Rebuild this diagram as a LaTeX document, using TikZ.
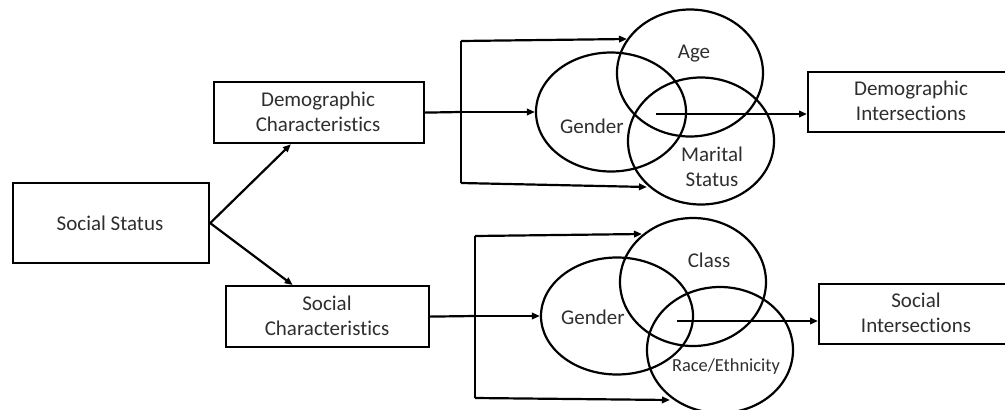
\documentclass[tikz,border=0pt]{standalone}
\usepackage{fontspec}
\setmainfont{Carlito}[Ligatures=NoCommon]
\usetikzlibrary{arrows.meta,shapes.geometric,calc}
\begin{document}
\begin{tikzpicture}[x=1pt,y=-1pt,
  line width=2.2pt,
  txt/.style={text=black!82,font=\fontsize{21}{25}\selectfont,align=center,inner sep=0pt},
  boxnode/.style={draw,rectangle,inner sep=0pt,anchor=north west},
  oval/.style={draw,ellipse,inner sep=0pt},
  arr/.style={-{Triangle[length=8pt,width=6.5pt]}},
  lbl/.style={txt}]
\useasboundingbox (0,0) rectangle (1005,410);
\clip (0,0) rectangle (1005,410);

% left-hand boxes
\node[boxnode,minimum width=196pt,minimum height=80pt] (ss) at (12,182) {};
\node[txt] at (110,223) {Social Status};
\node[boxnode,minimum width=210pt,minimum height=61pt] (dc) at (213,81) {};
\node[txt] at (318,112) {Demographic\\Characteristics};
\node[boxnode,minimum width=203pt,minimum height=61pt] (sc) at (225,285) {};
\node[txt] at (327,316) {Social\\Characteristics};

% right-hand result boxes
\node[boxnode,minimum width=208pt,minimum height=60pt] (di) at (807,71) {};
\node[txt] at (911,101) {Demographic\\Intersections};
\node[boxnode,minimum width=196pt,minimum height=60pt] (si) at (818,283) {};
\node[txt] at (916,313) {Social\\Intersections};

% demographic overlap
\node[oval,minimum width=150pt,minimum height=119pt] (g1) at (611,112) {};
\node[oval,minimum width=146pt,minimum height=127pt] (age) at (690,73) {};
\node[oval,minimum width=146pt,minimum height=127pt] (mar) at (701,141) {};
\node[lbl] at (694,54) {Age};
\node[lbl] at (592,126) {Gender};
\node[lbl] at (712,167) {Marital\\Status};

% social overlap
\node[oval,minimum width=152pt,minimum height=117pt] (g2) at (617,316) {};
\node[oval,minimum width=146pt,minimum height=128pt] (cls) at (693,282) {};
\node[oval,minimum width=146pt,minimum height=126pt] (race) at (720,350) {};
\node[lbl] at (709,260) {Class};
\node[lbl] at (593,317) {Gender};
\node[lbl,font=\fontsize{18.4}{22}\selectfont] at (726,367) {Race/Ethnicity};

% junction points
\coordinate (dcin) at ($(dc.south west)!0.367!(dc.south east)$);
\coordinate (scin) at ($(sc.north west)!0.33!(sc.north east)$);
\coordinate (j1) at (461,112);
\coordinate (j1t) at (461,41);
\coordinate (j1b) at (461,183);
\coordinate (t1) at (627,39);
\coordinate (b1) at (647,187);
\coordinate (c1) at (656,114);
\coordinate (j2) at (475,316);
\coordinate (j2t) at (475,236);
\coordinate (j2b) at (475,398);
\coordinate (t2) at (642,234);
\coordinate (b2) at (670,400);
\coordinate (c2) at (677,321);

% social status branches
\draw[arr] (ss.east) -- (dcin);
\draw[arr] (ss.east) -- (scin);

% demographic branch
\draw (dc.east) -- (j1);
\draw (j1b) -- (j1t);
\draw[arr] (j1t) -- (t1);
\draw[arr] (j1) -- (g1.west);
\draw[arr] (j1b) -- (b1);
\draw[arr] (c1) -- (c1 -| di.west);

% social branch
\draw (sc.east) -- (j2);
\draw (j2b) -- (j2t);
\draw[arr] (j2t) -- (t2);
\draw[arr] (j2) -- (g2.west);
\draw[arr] (j2b) -- (b2);
\draw[arr] (c2) -- (c2 -| si.west);
\end{tikzpicture}
\end{document}
